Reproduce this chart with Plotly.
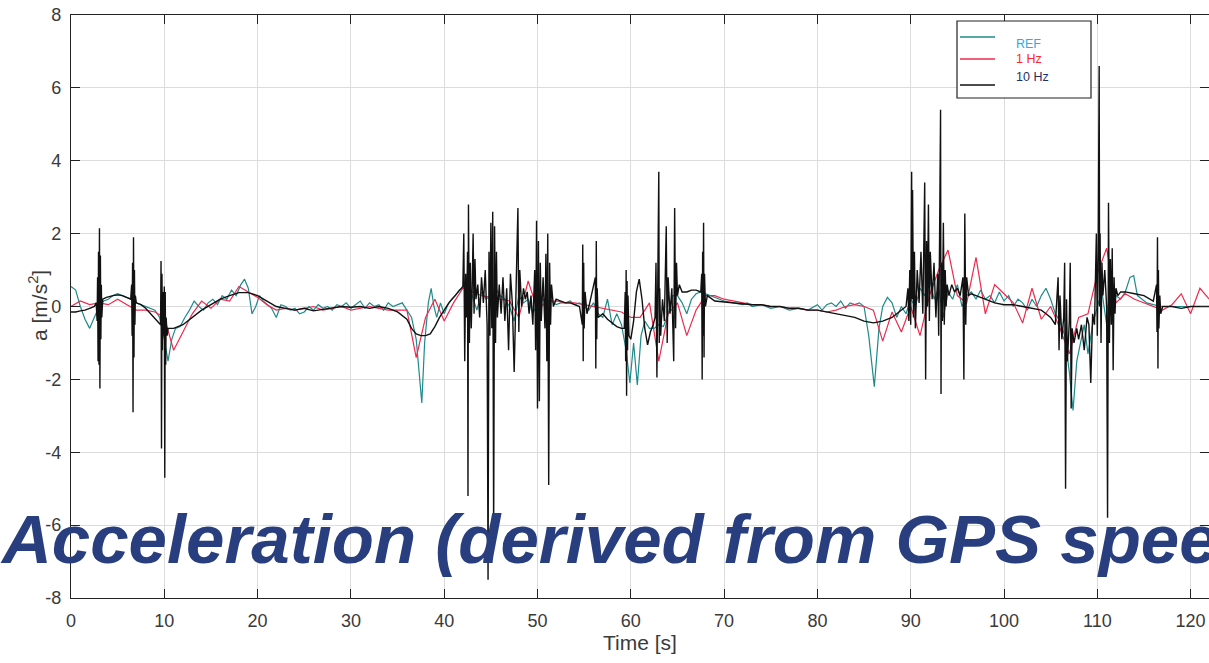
import plotly.graph_objects as go

# ---------------- data ----------------
ref_t = [0.0, 0.5, 1.0, 1.5, 2.0, 2.5, 3.0, 3.5, 4.0, 4.5, 5.0, 5.5, 6.0, 6.5, 7.0, 7.5, 8.0, 8.5, 9.0, 9.5,
         10.0, 10.4, 10.8, 11.2, 11.7, 12.2, 12.7, 13.2, 13.7, 14.2, 14.7, 15.2, 15.7, 16.2, 16.7, 17.2, 17.7,
         18.2, 18.6, 19.0, 19.4, 19.8, 20.2, 20.6, 21.0, 21.5, 22.0, 22.5, 23.0, 23.5, 24.0, 24.5, 25.0, 25.5,
         26.0, 26.5, 27.0, 27.5, 28.0, 28.5, 29.0, 29.5, 30.0, 30.5, 31.0, 31.5, 32.0, 32.5, 33.0, 33.5, 34.0,
         34.5, 35.0, 35.5, 36.0, 36.5, 37.0, 37.3, 37.6, 37.9, 38.3, 38.6, 38.9, 39.2, 39.6, 40.0, 40.4, 40.8,
         41.2, 41.6, 42.0, 42.5, 43.0, 43.5, 44.0, 44.5, 45.0, 45.5, 46.0, 46.5, 47.0, 47.5, 48.0, 48.5, 49.0,
         49.5, 50.0, 50.5, 51.0, 51.5, 52.0, 52.5, 53.0, 53.5, 54.0, 54.5, 55.0, 55.5, 56.0, 56.5, 57.0, 57.5,
         58.0, 58.5, 59.0, 59.5, 59.9, 60.3, 60.7, 61.1, 61.5, 62.0, 62.5, 63.0, 63.5, 64.0, 64.5, 65.0, 65.5,
         66.0, 66.5, 67.0, 67.5, 68.0, 68.5, 69.0, 70.0, 71.0, 72.0, 72.5, 73.0, 74.0, 75.0, 76.0, 77.0, 78.0,
         79.0, 80.0, 80.5, 81.0, 81.5, 82.0, 82.5, 83.0, 83.5, 84.0, 84.5, 85.0, 85.5, 86.1, 86.6, 87.0, 87.5,
         88.0, 88.5, 89.0, 89.5, 90.0, 90.5, 91.0, 91.5, 92.0, 92.5, 93.0, 93.5, 94.0, 94.5, 95.0, 95.5, 96.0,
         96.5, 97.0, 97.5, 98.0, 98.5, 99.0, 99.5, 100.0, 100.5, 101.0, 101.5, 102.0, 102.5, 103.0, 103.5,
         104.0, 104.5, 105.0, 105.5, 106.0, 106.5, 107.0, 107.4, 107.8, 108.2, 108.6, 109.0, 109.5, 110.0,
         110.5, 111.0, 111.5, 112.0, 112.5, 113.0, 113.5, 113.9, 114.3, 114.8, 115.3, 116.0, 117.0, 118.0,
         119.0, 120.0, 121.0, 122.0]
ref_a = [0.55, 0.45, 0.0, -0.35, -0.6, -0.3, 0.0, 0.15, 0.2, 0.3, 0.35, 0.3, 0.25, 0.2, 0.1, 0.05, 0.0, -0.05,
         -0.1, -0.3, -0.9, -1.5, -0.9, -0.6, -0.55, -0.3, -0.1, 0.15, 0.0, -0.1, 0.1, 0.2, 0.05, 0.3, 0.2, 0.45,
         0.3, 0.6, 0.75, 0.5, -0.2, 0.0, 0.3, 0.15, 0.05, -0.05, -0.3, 0.05, 0.0, -0.1, -0.05, -0.2, -0.15, 0.0,
         -0.1, 0.05, -0.05, 0.0, -0.1, 0.05, 0.0, 0.1, -0.05, 0.05, 0.15, -0.05, 0.1, 0.0, 0.05, -0.1, 0.1, 0.0,
         0.05, 0.1, -0.1, -0.3, -0.9, -1.8, -2.65, -1.0, 0.1, 0.5, 0.0, -0.3, 0.1, -0.2, 0.05, 0.2, 0.3, 0.45,
         0.5, 0.6, 0.3, -0.1, 0.4, 0.2, 0.3, 0.5, 0.3, 0.2, 0.0, -0.4, 0.3, 0.1, 0.2, -0.2, 0.1, 0.2, 0.1, 0.15,
         0.05, 0.1, 0.1, 0.15, 0.05, 0.1, 0.0, -0.1, 0.1, -0.2, -0.3, 0.2, -0.5, -0.2, -0.5, -1.2, -2.1, -1.0,
         -2.15, -0.8, -0.4, -0.6, -0.6, -0.5, -0.55, -0.2, 0.3, 0.3, 0.1, -0.2, 0.2, 0.35, 0.4, 0.35, 0.3, 0.25,
         0.15, 0.1, 0.05, 0.1, 0.0, 0.05, -0.05, 0.0, -0.1, -0.05, -0.1, 0.05, -0.1, 0.05, 0.1, 0.0, 0.15, -0.05,
         0.1, 0.05, 0.1, 0.0, -0.8, -2.2, -0.6, 0.0, 0.25, 0.1, -0.3, 0.0, -0.2, 0.2, 0.0, 0.5, 0.3, 0.8, 0.2,
         0.5, -0.3, 0.4, 0.2, 0.6, 0.0, 0.3, 0.4, 0.2, 0.45, 0.2, 0.3, 0.1, 0.4, 0.15, 0.3, 0.0, 0.2, 0.1, -0.1,
         0.2, 0.0, 0.3, 0.5, 0.2, -0.2, -0.4, -0.8, -1.8, -2.85, -1.5, -1.0, -0.5, -1.3, -0.5, 0.0, 0.4, -0.5,
         0.2, 0.3, 0.2, 0.4, 0.8, 0.85, 0.3, 0.2, 0.1, 0.05, 0.0, 0.0, 0.0, 0.0, 0.0, 0.0]

hz1_t = list(range(0, 123))
hz1_a = [0.0, 0.15, 0.05, 0.1, 0.05, 0.2, 0.05, -0.1, -0.1, -0.15, -0.3, -1.2, -0.7, -0.2, 0.15, -0.05, 0.2,
         0.15, 0.55, 0.4, 0.25, 0.05, -0.1, -0.05, -0.1, -0.05, 0.0, -0.1, -0.05, 0.0, -0.1, -0.05, 0.0, -0.05,
         -0.1, -0.1, -0.1, -1.4, -0.3, 0.2, -0.4, 0.1, 0.5, 0.4, 0.3, 0.25, 0.2, 0.15, -0.3, 0.7, -0.1, 0.15,
         0.15, 0.1, 0.1, 0.05, 0.0, -0.05, -0.1, -0.15, -0.3, -0.3, 0.1, -1.5, -0.2, 0.1, -0.8, -0.1, 0.3, 0.3,
         0.2, 0.15, 0.1, 0.05, 0.05, 0.0, 0.0, -0.05, -0.05, -0.1, -0.1, -0.15, -0.1, 0.0, 0.05, 0.0, -0.1,
         -0.95, -0.15, -0.7, 0.0, -0.8, 0.3, 1.0, 1.55, 0.3, 0.1, 1.35, -0.2, 0.6, 0.35, 0.1, -0.45, 0.5, -0.35,
         0.0, -0.6, -1.3, -0.3, -0.2, 0.9, 1.6, 0.1, 0.35, 0.2, 0.1, 0.0, -0.1, 0.05, 0.35, -0.2, 0.5, 0.2]

hz10_t = [0.0, 0.5, 1.0, 1.5, 2.0, 2.5, 2.7,
          2.8, 2.85, 2.9, 2.95, 3.0, 3.05, 3.1, 3.15, 3.2, 3.25, 3.3, 3.4,
          3.8, 4.5, 5.0, 5.5, 6.0, 6.4,
          6.5, 6.55, 6.6, 6.65, 6.7, 6.75, 6.8, 6.85, 6.9, 7.0,
          7.5, 8.0, 8.5, 9.0, 9.4, 9.6,
          9.65, 9.7, 9.75, 9.8, 9.85, 9.9, 9.95, 10.0, 10.05, 10.1, 10.15, 10.2, 10.3, 10.4,
          11, 12, 13, 14, 15, 16, 17, 18, 19, 20, 21, 22, 23, 24, 25, 26, 27, 28, 29, 30, 31, 32, 33, 34, 35,
          36, 36.5, 37, 37.5, 38, 38.5, 39, 39.5, 40, 40.5, 41, 41.5, 42,
          42.1, 42.2, 42.3, 42.4, 42.5, 42.55, 42.6, 42.7, 42.8, 42.9, 43.0, 43.1, 43.2, 43.3, 43.4, 43.6,
          43.8, 44.0, 44.2, 44.4, 44.6, 44.7, 44.8, 44.9, 45.0, 45.1, 45.2, 45.3, 45.4, 45.5, 45.6, 45.7,
          45.9, 46.1, 46.3, 46.5, 46.7, 46.9, 47.1, 47.3, 47.5, 47.7, 47.9, 48.0, 48.1, 48.3, 48.5, 48.7,
          48.9, 49.1, 49.3, 49.5, 49.7, 49.8, 49.9, 50.0, 50.1, 50.2, 50.3, 50.4, 50.6, 50.8, 50.9, 51.0,
          51.1, 51.2, 51.3, 51.4, 51.5, 51.7, 52.0,
          52.5, 53, 53.5, 54, 54.5,
          54.8, 54.85, 54.9, 54.95, 55.0, 55.1, 55.3, 55.6,
          56.2, 56.25, 56.3, 56.35, 56.4, 56.5,
          57, 57.5, 58, 58.5, 59, 59.3,
          59.4, 59.45, 59.5, 59.55, 59.6, 59.65, 59.7, 59.8,
          60.0, 60.3, 60.6, 60.9, 61.2, 61.5, 61.8, 62.1, 62.4,
          62.6, 62.7, 62.8, 62.9, 63.0, 63.05, 63.1, 63.2, 63.4, 63.6, 63.8, 63.9, 64.0, 64.2, 64.4, 64.6,
          64.7, 64.8, 64.9, 65.0, 65.2, 65.5, 66, 66.5, 67, 67.5,
          67.6, 67.65, 67.7, 67.75, 67.8, 67.85, 67.9, 68.0, 68.2,
          69, 70, 71, 72, 73, 74, 75, 76, 77, 78, 79, 80, 81, 82, 83, 84, 85, 86, 87, 88, 88.5, 89, 89.5,
          89.7, 89.8, 89.9, 90.0, 90.1, 90.15, 90.2, 90.3, 90.4, 90.5, 90.7, 90.9, 91.1, 91.3, 91.5, 91.6,
          91.7, 91.8, 91.9, 92.0, 92.1, 92.3, 92.5, 92.7, 92.9, 93.0, 93.1, 93.2, 93.25, 93.3, 93.4, 93.5,
          93.6, 93.7, 93.8, 93.9, 94.1, 94.4, 94.7, 95.0, 95.3, 95.6, 95.7, 95.8, 95.9, 96.0, 96.2, 96.5,
          97, 98, 99, 100, 101, 102, 103, 104, 104.5, 105, 105.5,
          105.8, 105.9, 106.0, 106.2, 106.4, 106.5, 106.6, 106.7, 106.8, 107.0, 107.1, 107.2, 107.3, 107.5,
          107.8, 108.0, 108.3, 108.6, 108.9, 109.1, 109.3, 109.5, 109.7, 109.9, 110.0, 110.1, 110.2, 110.25,
          110.3, 110.4, 110.5, 110.6, 110.8, 111.0, 111.1, 111.2, 111.3, 111.4, 111.5, 111.6, 111.7, 111.8,
          111.9, 112.0, 112.2, 112.5,
          113, 114, 115, 116,
          116.35, 116.4, 116.45, 116.5, 116.55, 116.6, 116.7, 116.8,
          117, 118, 119, 120, 121, 122]
hz10_a = [-0.15, -0.15, -0.12, -0.1, -0.05, 0.0, 0.1,
          -0.4, 0.8, -1.5, 1.5, -1.6, 2.15, -2.25, 1.4, -0.9, 0.6, -0.3, 0.2,
          0.25, 0.3, 0.32, 0.3, 0.25, 0.2,
          0.6, -0.8, 1.2, -2.9, 1.9, -1.4, 1.0, -0.5, 0.3, 0.1,
          0.05, -0.05, -0.2, -0.35, -0.45, -0.5,
          1.25, -3.9, 0.9, -1.2, 0.4, -0.8, -0.6, 0.55, -4.7, 0.4, -1.6, -0.3, -0.8, -0.6,
          -0.6, -0.5, -0.3, -0.1, 0.05, 0.2, 0.3, 0.38, 0.38, 0.3, 0.15, 0.0, -0.05, -0.1, -0.05, -0.12,
          -0.08, -0.05, 0.0, -0.02, 0.0, -0.05, 0.0, -0.05, -0.15,
          -0.35, -0.6, -0.75, -0.8, -0.8, -0.75, -0.55, -0.3, -0.1, 0.1, 0.25, 0.4, 0.55,
          2.0, -1.5, 0.9, -0.3, 1.5, -5.2, 2.8, -1.0, 1.2, -0.6, 0.5, 2.0, -0.2, 1.3, 0.2, 0.6,
          -0.3, 0.8, 0.1, 1.0, -0.5, -7.5, 1.5, -0.8, 2.3, -0.6, 2.6, -6.3, 2.2, -1.0, 1.5, -0.3,
          0.6, -0.2, 0.8, -0.4, 0.5, -1.2, 0.9, 0.1, -1.8, 0.5, 2.7, -0.7, 1.0, 0.0, 0.5, 0.2,
          0.4, -0.2, 0.3, -0.5, 1.0, -1.2, 2.35, -2.8, 1.8, -2.6, 1.2, -0.4, 0.8, -0.6, 1.45, -1.5,
          2.0, -4.9, 1.2, -0.5, 0.6, 0.0, 0.2,
          0.15, 0.1, 0.1, 0.05, 0.0,
          -0.5, 1.7, -1.5, 1.2, -0.6, 0.4, -0.2, 0.1,
          0.8, -1.7, 1.8, -0.9, 0.5, -0.3,
          -0.2, -0.35, -0.45, -0.55, -0.6, -0.6,
          0.4, -1.5, 1.0, -2.45, 0.7, -1.2, 0.3, -0.8,
          -0.9, -0.4, 0.4, 0.75, 0.2, -0.6, -1.05, -0.7, -0.5,
          -0.3, 1.2, -1.95, 0.9, 3.7, -1.0, 0.5, -0.8, 0.2, -0.4, 2.2, -1.0, 0.8, -0.2, 0.5, -1.5,
          2.7, -0.6, 1.2, 0.3, 0.6, 0.4, 0.4, 0.45, 0.45, 0.4,
          0.9, -2.0, 1.5, -0.8, 2.3, -1.4, 0.9, 0.0, 0.3,
          0.15, 0.12, 0.1, 0.08, 0.05, 0.05, 0.0, 0.0, -0.05, -0.05, -0.1, -0.1, -0.15, -0.2, -0.25, -0.3,
          -0.4, -0.45, -0.4, -0.3, -0.2, -0.1, 0.0,
          0.5, -0.4, 1.0, -0.5, 3.7, 0.2, 3.2, -0.3, 1.5, -0.6, 1.0, 0.1, 1.5, -0.2, 3.4, -2.0,
          1.8, 0.0, 2.8, -0.4, 1.5, 0.2, 1.2, -0.3, 0.9, -0.8, 2.0, 5.4, -2.4, 1.2, -0.4, 2.3,
          -0.5, 1.0, 0.0, 0.6, 0.3, 0.6, 0.4, 0.5, 0.3, 0.8, -2.0, 2.55, -0.5, 0.8, 0.3, 0.35,
          0.3, 0.2, 0.1, 0.05, 0.05, 0.0, -0.05, -0.1, -0.2, -0.3, -0.5,
          0.8, -1.2, 0.3, -0.9, -0.3, 1.2, -5.0, 0.2, -1.5, -0.4, 1.2, -2.8, -0.6, -1.0,
          -0.6, -0.9, -0.5, -1.2, -0.3, -0.5, -2.1, -0.2, -0.5, 2.0, -0.8, 1.5, 6.6, 0.0,
          2.0, -1.0, 1.2, 0.3, 1.0, 0.0, -5.8, 2.85, -1.0, 1.3, -0.5, 1.6, -1.75, 0.8,
          -0.2, 0.5, 0.3, 0.4,
          0.4, 0.35, 0.3, 0.15,
          0.6, -0.7, 1.9, -1.7, 1.0, -0.6, 0.3, -0.2,
          0.0, 0.0, -0.05, 0.0, 0.0, 0.0]

series_names = ["REF", "1 Hz", "10 Hz"]
x_ticks = list(range(0, 130, 10))
y_ticks = list(range(-8, 10, 2))
y_tick_text = [str(v) for v in y_ticks]  # plain hyphen minus, as in the reference

# ---------------- styling ----------------
C_REF, C_1HZ, C_10HZ = "#1f8a8c", "#ee2a4e", "#111111"
TXT_REF, TXT_1HZ, TXT_10HZ = "#29aee6", "#ff2626", "#1f2f6e"

W, H = 1209, 663
ML, MR, MT, MB = 71, 0, 15, 65
PW, PH = W - ML - MR, H - MT - MB
XMAX = PW / 9.33


def px(xp):
    return (xp - ML) / PW


def py(yp):
    return (H - MB - yp) / PH


fig = go.Figure()
fig.add_trace(go.Scatter(x=ref_t, y=ref_a, mode="lines", name=series_names[0],
                         line=dict(color=C_REF, width=1.2), showlegend=False))
fig.add_trace(go.Scatter(x=hz1_t, y=hz1_a, mode="lines", name=series_names[1],
                         line=dict(color=C_1HZ, width=1.2), showlegend=False))
fig.add_trace(go.Scatter(x=hz10_t, y=hz10_a, mode="lines", name=series_names[2],
                         line=dict(color=C_10HZ, width=1.4), showlegend=False))

font_main = "Liberation Sans, Arial, Helvetica, sans-serif"
AX = "#222"
TICKC = "#3a3a3a"

fig.update_layout(
    width=W, height=H,
    margin=dict(l=ML, r=MR, t=MT, b=MB, pad=0),
    paper_bgcolor="white", plot_bgcolor="white",
    font=dict(family=font_main, color=TICKC),
    xaxis=dict(range=[0, XMAX], tickvals=x_ticks, ticks="inside", ticklen=9,
               tickcolor=AX, showline=True, linecolor=AX, linewidth=1.2, mirror="ticks",
               showgrid=True, gridcolor="#dcdcdc", gridwidth=1, zeroline=False,
               tickfont=dict(size=18, color=TICKC), ticklabelstandoff=6,
               title=dict(text="Time [s]", font=dict(size=21, color=TICKC), standoff=4)),
    yaxis=dict(range=[-8, 8], tickvals=y_ticks, ticktext=y_tick_text, ticks="inside", ticklen=9,
               tickcolor=AX, showline=True, linecolor=AX, linewidth=1.2, mirror=False,
               showgrid=True, gridcolor="#dcdcdc", gridwidth=1, zeroline=False,
               tickfont=dict(size=18, color=TICKC), ticklabelstandoff=5),
    yaxis2=dict(range=[-8, 8], tickvals=y_ticks, overlaying="y", side="right", anchor="x",
                ticks="inside", ticklen=9, tickcolor=AX, showline=False, showticklabels=False,
                showgrid=False, zeroline=False),
)
# invisible trace to activate right-hand tick axis
fig.add_trace(go.Scatter(x=[None], y=[None], yaxis="y2", showlegend=False, hoverinfo="skip"))

# manual legend (box, line samples, coloured labels)
shapes = [dict(type="rect", xref="paper", yref="paper", x0=px(957), x1=px(1091), y0=py(98), y1=py(21),
               line=dict(color="#222", width=1.2), fillcolor="white", layer="above")]
for yy, col in [(37, C_REF), (59, C_1HZ), (85, C_10HZ)]:
    shapes.append(dict(type="line", xref="paper", yref="paper", x0=px(960), x1=px(995), y0=py(yy), y1=py(yy),
                       line=dict(color=col, width=1.6), layer="above"))
fig.update_layout(shapes=shapes)

annotations = []
for yy, name, col in [(44, series_names[0], TXT_REF), (59, series_names[1], TXT_1HZ), (77, series_names[2], TXT_10HZ)]:
    annotations.append(dict(xref="paper", yref="paper", x=px(1014), y=py(yy), text=name, showarrow=False,
                            xanchor="left", yanchor="middle", font=dict(size=12.5, color=col, family=font_main)))
# y axis title
annotations.append(dict(xref="paper", yref="paper", x=px(38), y=py(306), text="a [m/s<sup>2</sup>]",
                        textangle=-90, showarrow=False, xanchor="center", yanchor="middle",
                        font=dict(size=21, color=TICKC, family=font_main)))
# slide overlay title
annotations.append(dict(xref="paper", yref="paper", x=px(-2), y=py(539),
                        text="<b><i>Acceleration (derived from GPS speed)</i></b>", showarrow=False,
                        xanchor="left", yanchor="middle",
                        font=dict(size=69, color="#283e7e", family=font_main)))
fig.update_layout(annotations=annotations)

fig.write_html("out.html")
